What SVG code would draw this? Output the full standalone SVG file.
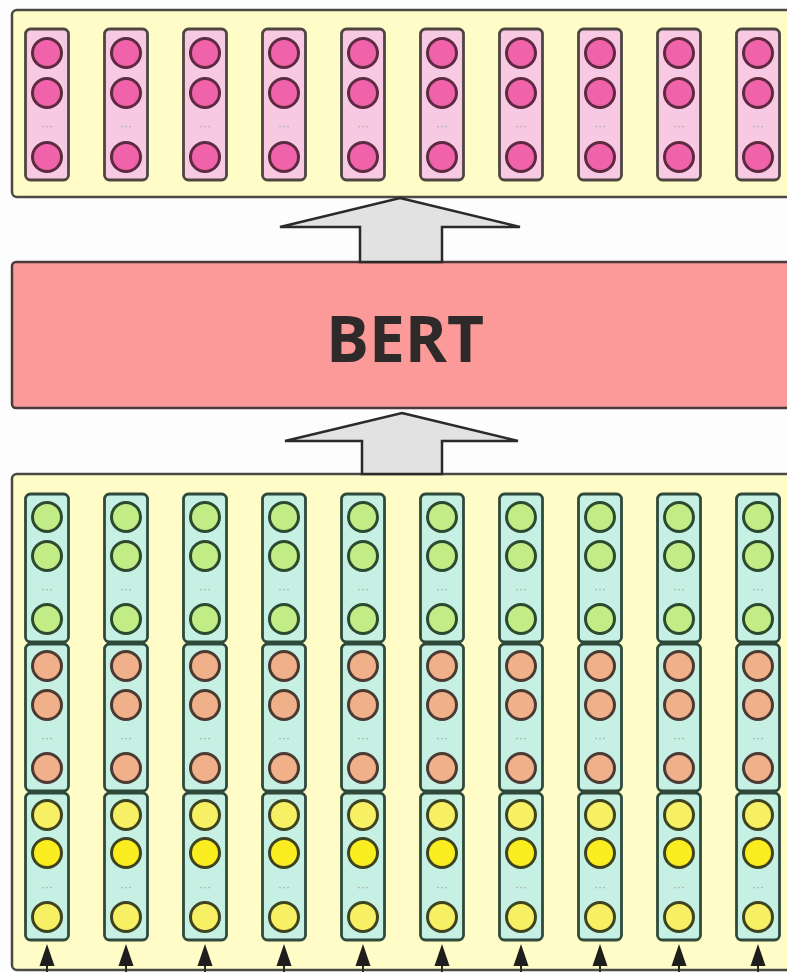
<svg xmlns="http://www.w3.org/2000/svg" width="787" height="972" viewBox="0 0 787 972">
<style>
.panel{fill:#fffcc8;stroke:#4a4a42;stroke-width:2.5}
.pcol{fill:#f7c9e3;stroke:#4e4640;stroke-width:2.8}
.ccol{fill:#c6f0e4;stroke:#2f4a3a;stroke-width:2.8}
.pink{fill:#f063aa;stroke:#5e2a40;stroke-width:3}
.green{fill:#c2ec86;stroke:#2c4a30;stroke-width:3}
.orange{fill:#f0b08a;stroke:#4a3a32;stroke-width:3}
.yellow{fill:#f8f064;stroke:#3e4420;stroke-width:3}
.yellow2{fill:#fbee20;stroke:#3e4420;stroke-width:3}
.dots{font-family:"Liberation Sans",Arial,sans-serif;font-size:12px;fill:#9aa6a8;text-anchor:middle}
.big{fill:#e2e2e2;stroke:#2a2a2a;stroke-width:2.5;stroke-linejoin:miter}
.in{stroke:#2a2a2a;stroke-width:2}
</style>
<defs>
<g id="pc">
<rect class="pcol" x="-21.5" y="0" width="43" height="151" rx="5"/>
<circle class="pink" cx="0" cy="24" r="14.5"/>
<circle class="pink" cx="0" cy="64" r="14.5"/>
<text class="dots" x="0" y="101">···</text>
<circle class="pink" cx="0" cy="128" r="14.5"/>
</g>
<g id="gsec">
<rect class="ccol" x="-21.5" y="0" width="43" height="148" rx="5"/>
<circle class="green" cx="0" cy="23" r="14.5"/>
<circle class="green" cx="0" cy="62" r="14.5"/>
<text class="dots" x="0" y="99">···</text>
<circle class="green" cx="0" cy="125" r="14.5"/>
</g>
<g id="osec">
<rect class="ccol" x="-21.5" y="0" width="43" height="147" rx="5"/>
<circle class="orange" cx="0" cy="22" r="14.5"/>
<circle class="orange" cx="0" cy="61" r="14.5"/>
<text class="dots" x="0" y="98">···</text>
<circle class="orange" cx="0" cy="124" r="14.5"/>
</g>
<g id="ysec">
<rect class="ccol" x="-21.5" y="0" width="43" height="147" rx="5"/>
<circle class="yellow" cx="0" cy="22" r="14.5"/>
<circle class="yellow2" cx="0" cy="60" r="14.5"/>
<text class="dots" x="0" y="98">···</text>
<circle class="yellow" cx="0" cy="124" r="14.5"/>
</g>
<g id="cc">
<use href="#gsec" y="494"/>
<use href="#osec" y="644"/>
<use href="#ysec" y="793"/>
<line class="in" x1="0" y1="972" x2="0" y2="960"/>
<polygon points="0,944 -7.5,966 7.5,966" fill="#1e1e1e"/>
</g>
</defs>
<rect x="0" y="0" width="787" height="972" fill="#fdfdfd"/>

<g id="output-layer">
<rect class="panel" x="12" y="10" width="800" height="187" rx="5"/>
<use href="#pc" x="47" y="29"/>
<use href="#pc" x="126" y="29"/>
<use href="#pc" x="205" y="29"/>
<use href="#pc" x="284" y="29"/>
<use href="#pc" x="363" y="29"/>
<use href="#pc" x="442" y="29"/>
<use href="#pc" x="521" y="29"/>
<use href="#pc" x="600" y="29"/>
<use href="#pc" x="679" y="29"/>
<use href="#pc" x="758" y="29"/>
</g>

<g id="bert">
<rect x="12" y="262" width="800" height="146" rx="4" fill="#fb9a98" stroke="#4a3a3a" stroke-width="2.5"/>
<text x="405" y="362" font-family="'Open Sans','DejaVu Sans',sans-serif" font-weight="700" font-size="64" fill="#2e2a2a" text-anchor="middle">BERT</text>
</g>

<g id="input-layer">
<rect class="panel" x="12" y="474" width="800" height="496" rx="5"/>
<use href="#cc" x="47"/>
<use href="#cc" x="126"/>
<use href="#cc" x="205"/>
<use href="#cc" x="284"/>
<use href="#cc" x="363"/>
<use href="#cc" x="442"/>
<use href="#cc" x="521"/>
<use href="#cc" x="600"/>
<use href="#cc" x="679"/>
<use href="#cc" x="758"/>
</g>

<g id="connectors">
<polygon class="big" points="400,198 520,227 442,227 442,262 360,262 360,227 280,227"/>
<polygon class="big" points="402,413 518,441 442,441 442,474 362,474 362,441 285,441"/>
</g>
</svg>
